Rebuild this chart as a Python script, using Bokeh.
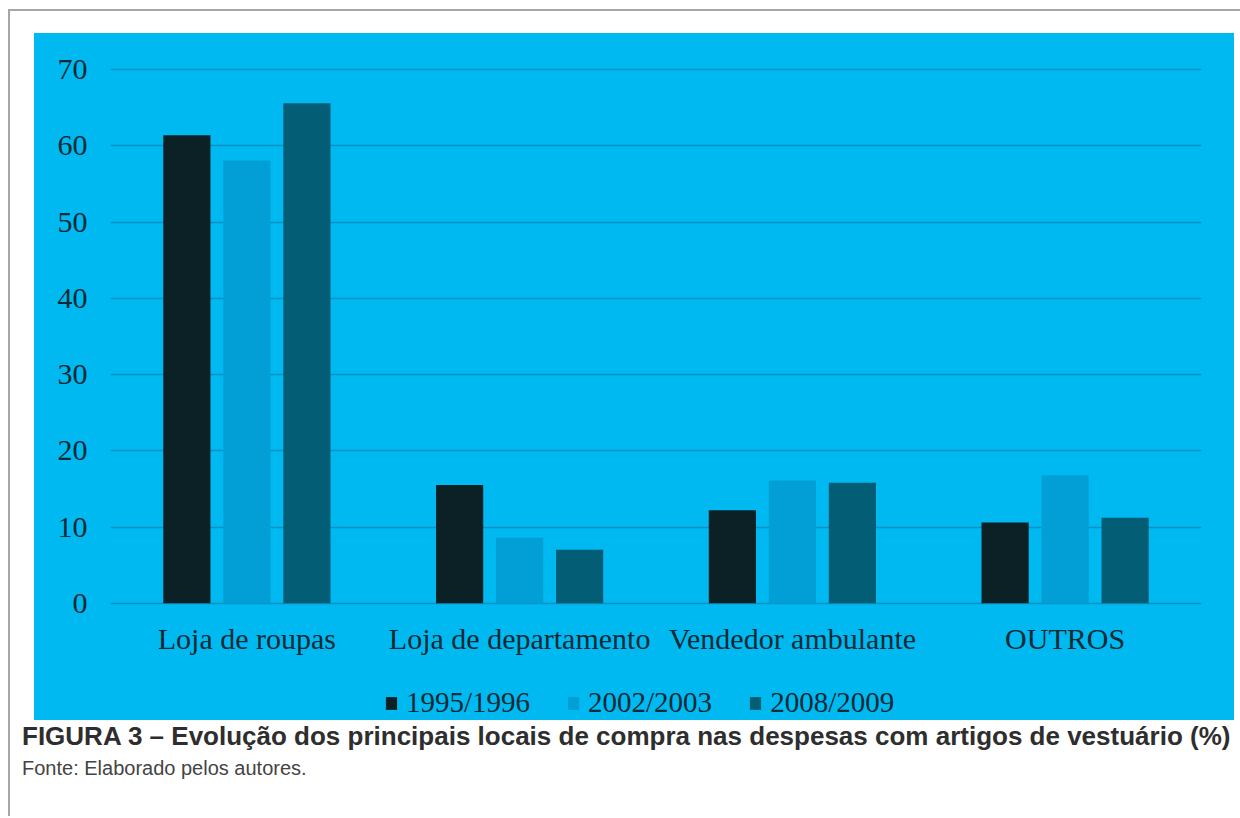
from bokeh.plotting import figure
from bokeh.models import ColumnDataSource, Legend, LegendItem, Div, FactorRange, Range1d
from bokeh.transform import dodge
from bokeh.layouts import column
from bokeh.embed import file_html
from bokeh.resources import INLINE

# ---- data ----
categories = ["Loja de roupas", "Loja de departamento", "Vendedor ambulante", "OUTROS"]
series_names = ["1995/1996", "2002/2003", "2008/2009"]
v_1995 = [61.4, 15.5, 12.2, 10.6]
v_2002 = [58.1, 8.6, 16.1, 16.8]
v_2008 = [65.6, 7.0, 15.8, 11.2]
y_ticks = [0, 10, 20, 30, 40, 50, 60, 70]

caption = "FIGURA 3 – Evolução dos principais locais de compra nas despesas com artigos de vestuário (%)"
source_note = "Fonte: Elaborado pelos autores."

# ---- styles ----
BG = "#00b9f1"
COLORS = ["#0c2126", "#019fd5", "#035e75"]
TXT = "#0b2a35"
GRID = "#0a90c2"
SERIF = "Liberation Serif"

src = ColumnDataSource(dict(cat=categories, a=v_1995, b=v_2002, c=v_2008))
keys = ["a", "b", "c"]
offsets = [-0.22, 0.0, 0.22]

p = figure(x_range=FactorRange(*categories), y_range=Range1d(-0.3, 70.3),
           width=1200, height=637, output_backend="svg", toolbar_location=None,
           min_border_left=76, min_border_right=33, min_border_top=34, min_border_bottom=65,
           background_fill_color=BG, border_fill_color=BG, outline_line_color=None)

for key, off, col in zip(keys, offsets, COLORS):
    p.vbar(x=dodge("cat", off, range=p.x_range), top=key, width=0.173,
           source=src, fill_color=col, line_color=None)

p.xgrid.grid_line_color = None
p.ygrid.grid_line_color = GRID
p.ygrid.grid_line_width = 1.5
p.ygrid.ticker = y_ticks

p.yaxis.ticker = y_ticks
for ax in (p.xaxis, p.yaxis):
    ax.axis_line_color = None
    ax.major_tick_line_color = None
    ax.minor_tick_line_color = None
    ax.major_tick_out = 0
    ax.major_tick_in = 0
    ax.major_label_text_font = SERIF
    ax.major_label_text_font_size = "30px"
    ax.major_label_text_color = TXT
p.yaxis.major_label_standoff = 23
p.xaxis.major_label_standoff = 16

# ---- legend strip (same blue panel, below the category labels) ----
# its bars use the same data but lie outside this strip's visible y-range
lg = figure(width=1200, height=50, x_range=FactorRange(*categories), y_range=Range1d(200, 201),
            output_backend="svg", toolbar_location=None, min_border=0,
            background_fill_color=BG, border_fill_color=BG, outline_line_color=None)
lg.axis.visible = False
lg.grid.grid_line_color = None
legend_rends = []
for key, off, col in zip(keys, offsets, COLORS):
    r = lg.vbar(x=dodge("cat", off, range=lg.x_range), top=key, width=0.173,
                source=src, fill_color=col, line_color=None)
    legend_rends.append(r)

legend = Legend(items=[LegendItem(label=n, renderers=[r]) for n, r in zip(series_names, legend_rends)],
                orientation="horizontal", location=(274, 1),
                glyph_width=14, glyph_height=16, label_standoff=8, spacing=36,
                padding=0, margin=0, border_line_color=None, background_fill_alpha=0,
                label_text_font=SERIF, label_text_font_size="29px", label_text_color=TXT)
lg.add_layout(legend)

chart = column(p, lg, margin=(22, 0, 0, 24), styles={"background-color": BG})

cap = Div(text=(
    '<div style="font-family:\'Liberation Sans\',Arial,sans-serif;font-weight:bold;'
    'font-size:26px;color:#2e2e2e;white-space:nowrap;line-height:30px;">' + caption + '</div>'
    '<div style="font-family:\'Liberation Sans\',Arial,sans-serif;font-size:20px;'
    'color:#444444;margin-top:5px;line-height:24px;white-space:nowrap;">' + source_note + '</div>'),
    width=1218, height=95, margin=(1, 0, 0, 12))

layout = column(chart, cap, margin=(9, 0, 0, 8),
                styles={"border-left": "2px solid #a6a6a6",
                        "border-top": "2px solid #a6a6a6"})

open("out.html", "w").write(file_html(layout, INLINE))
